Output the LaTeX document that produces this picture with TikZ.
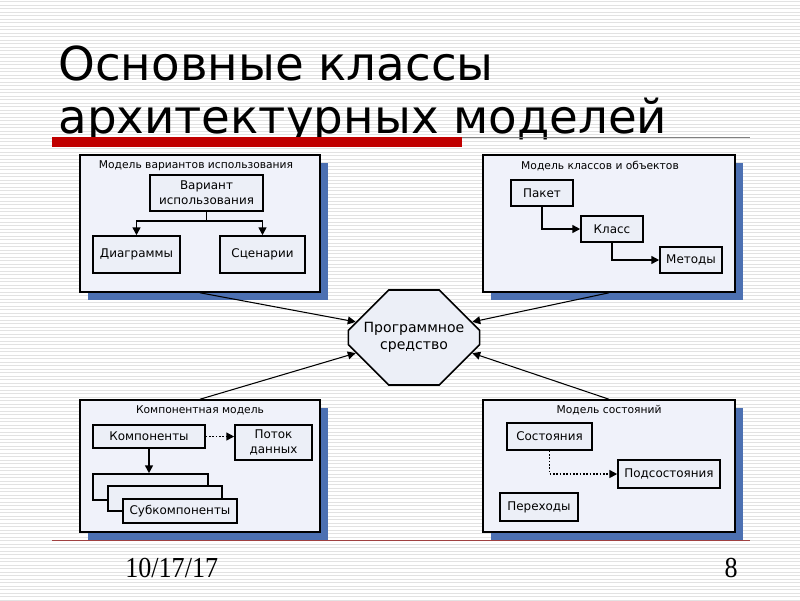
\documentclass[tikz,border=0pt]{standalone}
\usepackage{fontspec}
\setmainfont{DejaVu Sans}
\newfontfamily\footfont{Liberation Serif}
\usetikzlibrary{arrows.meta, positioning, shapes.misc, shadows}
\definecolor{panelfill}{RGB}{240,242,250}
\definecolor{boxfill}{RGB}{236,239,247}
\definecolor{shadowblue}{RGB}{76,112,178}
\definecolor{barred}{RGB}{192,0,0}
\definecolor{stripegray}{RGB}{226,226,226}

\begin{document}
\begin{tikzpicture}[x=0.02cm, y=-0.02cm, >={Triangle[length=4.5pt, width=4.5pt]},
    panel/.style={draw, line width=0.9pt, fill=panelfill, inner sep=0pt,
        drop shadow={shadow xshift=0.16cm, shadow yshift=-0.16cm, fill=shadowblue, opacity=1}},
    ptitle/.style={font=\fontsize{6.1}{7}\selectfont, inner sep=1pt},
    box/.style={draw, line width=0.9pt, fill=boxfill, inner sep=1pt, align=center, font=\fontsize{6.8}{8.5}\selectfont},
    octa/.style={chamfered rectangle, chamfered rectangle xsep=0.66cm, chamfered rectangle ysep=0.5cm,
        draw, line width=0.9pt, fill=boxfill, minimum width=2.56cm, minimum height=1.9cm, inner sep=0pt,
        align=center, font=\fontsize{8}{10}\selectfont},
    link/.style={->, line width=0.9pt},
    dlink/.style={->, line width=0.9pt, densely dotted},
    feed/.style={->, line width=0.6pt}]

    % Background
    \useasboundingbox (0,0) rectangle (800,600);
    \fill[white] (0,0) rectangle (800,600);
    \foreach \yy in {1.5,5,...,600}
        \draw[stripegray, line width=0.5pt] (0,\yy) -- (800,\yy);

    % Heading
    \node[anchor=base west, inner sep=0pt, font=\fontsize{26.6}{32}\selectfont] (title1) at (58,80) {Основные классы};
    \node[anchor=base west, inner sep=0pt, font=\fontsize{26.6}{32}\selectfont] (title2) at (58,133) {архитектурных моделей};
    \draw[gray, line width=0.5pt] (52,137.5) -- (750,137.5);
    \fill[barred] (52,137) rectangle (462,147);
    \draw[barred!50!gray, line width=0.5pt] (52,540) -- (750,540);

    % Panels
    \node[panel, minimum width=4.8cm, minimum height=2.74cm] (usecase) at (200,223.5) {};
    \node[panel, minimum width=5.04cm, minimum height=2.74cm] (classes) at (609,223.5) {};
    \node[panel, minimum width=4.8cm, minimum height=2.64cm] (comps) at (200,466) {};
    \node[panel, minimum width=5.04cm, minimum height=2.64cm] (states) at (609,466) {};

    % Panel titles
    \node[ptitle, below=2.5pt of usecase.north, xshift=-0.08cm] (usecasetitle) {Модель вариантов использования};
    \node[ptitle, below=2.5pt of classes.north, xshift=-0.18cm] (classestitle) {Модель классов и объектов};
    \node[ptitle, below=2.5pt of comps.north] (compstitle) {Компонентная модель};
    \node[ptitle, below=2.5pt of states.north] (statestitle) {Модель состояний};

    % Use case model
    \node[box, minimum width=2.26cm, minimum height=0.72cm] (variant) at (206.5,193) {Вариант\\использования};
    \node[box, minimum width=1.74cm, minimum height=0.74cm] (diagrams) at (136.5,254.5) {Диаграммы};
    \node[box, minimum width=1.7cm, minimum height=0.74cm] (scenarios) at (262.5,254.5) {Сценарии};
    \draw[link] (variant.south) -- ++(0,9) -| (diagrams.north);
    \draw[link] (variant.south) -- ++(0,9) -| (scenarios.north);

    % Class model
    \node[box, minimum width=1.24cm, minimum height=0.52cm] (package) at (542,193) {Пакет};
    \node[box, minimum width=1.24cm, minimum height=0.52cm] (class) at (612,229) {Класс};
    \node[box, minimum width=1.24cm, minimum height=0.52cm] (methods) at (691,260) {Методы};
    \draw[link] (package.south) |- (class.west);
    \draw[link] (class.south) |- (methods.west);

    % Component model
    \node[box, minimum width=2.24cm, minimum height=0.46cm] (components) at (149,436.5) {Компоненты};
    \node[box, minimum width=1.54cm, minimum height=0.7cm] (dataflow) at (273.5,442.5) {Поток\\данных};
    \node[box, minimum width=2.3cm, minimum height=0.52cm] (subback) at (150.5,487) {};
    \node[box, minimum width=2.28cm, minimum height=0.5cm] (submid) at (165,498.5) {};
    \node[box, minimum width=2.28cm, minimum height=0.48cm] (subfront) at (180,511) {Субкомпоненты};
    \draw[dlink] (components.east) -- (components.east -| dataflow.west);
    \draw[link] (components.south) -- (components.south |- subback.north);

    % State model
    \node[box, minimum width=1.7cm, minimum height=0.54cm] (state) at (549.5,436.5) {Состояния};
    \node[box, minimum width=2.04cm, minimum height=0.56cm] (substate) at (669,474) {Подсостояния};
    \node[box, minimum width=1.56cm, minimum height=0.56cm] (transitions) at (539,507) {Переходы};
    \draw[dlink] (state.south) |- (substate.west);

    % Software product
    \node[octa] (software) at (414,337.5) {Программное\\средство};
    \draw[feed] (usecase.south) -- (software.165);
    \draw[feed] (classes.south) -- (software.15);
    \draw[feed] (comps.north) -- (software.195);
    \draw[feed] (states.north) -- (software.345);

    % Footer
    \node[anchor=base west, inner sep=0pt, xscale=0.9, font=\footfont\fontsize{16.5}{20}\selectfont] (date) at (125,577) {10/17/17};
    \node[anchor=base east, inner sep=0pt, xscale=0.9, font=\footfont\fontsize{16.5}{20}\selectfont] (page) at (738,577) {8};
\end{tikzpicture}
\end{document}
